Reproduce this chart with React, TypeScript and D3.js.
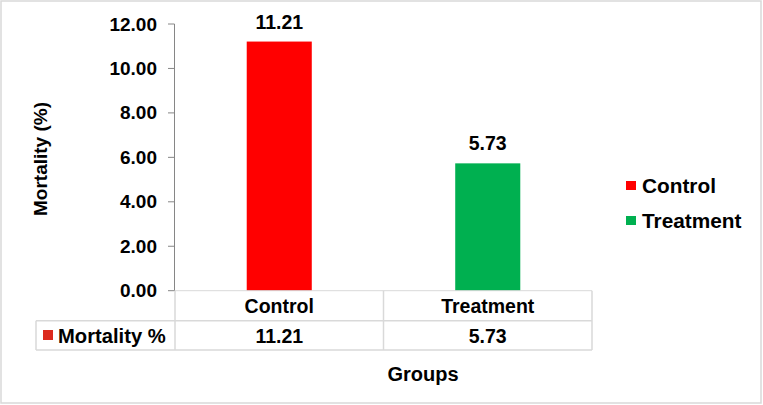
import React from "react";
import * as d3 from "d3";

const categories = ["Control", "Treatment"];
const values = [11.21, 5.73];
const colors = ["#ff0000", "#00b050"];
const yTicks = [0, 2, 4, 6, 8, 10, 12];
const seriesName = "Mortality %";
const yTitle = "Mortality (%)";
const xTitle = "Groups";

const W = 763;
const H = 405;
const FONT = "'Liberation Sans', Arial, sans-serif";

export default function App() {
  const y = d3.scaleLinear().domain([0, 12]).range([290.7, 24]);
  const x = d3.scaleBand<string>().domain(categories).range([175, 592]).padding(0);
  const bw = x.bandwidth() * 0.312;
  const row1Top = y(0);
  const row1Bot = 320.7;
  const row2Bot = 350;
  const tableLeft = 36;
  const gridColor = "#d9d9d9";

  return (
    <svg
      width={W}
      height={H}
      style={{ position: "absolute", left: 0, top: 0, background: "#fff" }}
      fontFamily={FONT}
      fontWeight="bold"
    >
      <rect x={1} y={1} width={760} height={402} fill="#fff" stroke={gridColor} strokeWidth={1.5} />

      {/* y axis */}
      <line x1={174.5} x2={174.5} y1={y(12)} y2={y(0)} stroke="#868686" strokeWidth={1} />
      {yTicks.map((t) => (
        <g key={t}>
          <line x1={168} x2={174.5} y1={y(t)} y2={y(t)} stroke="#868686" strokeWidth={1} />
          <text x={157} y={y(t) + 6.5} textAnchor="end" fontSize={19} fill="#000">
            {t.toFixed(2)}
          </text>
        </g>
      ))}

      {/* bars */}
      {categories.map((c, i) => {
        const cx = (x(c) as number) + x.bandwidth() / 2;
        return (
          <g key={c}>
            <rect x={cx - bw / 2} y={y(values[i])} width={bw} height={y(0) - y(values[i])} fill={colors[i]} />
            <text x={cx} y={y(values[i]) - 13} textAnchor="middle" fontSize={19.5} fill="#000">
              {values[i].toFixed(2)}
            </text>
          </g>
        );
      })}

      {/* data table */}
      <line x1={175} x2={592} y1={row1Top} y2={row1Top} stroke={gridColor} strokeWidth={1} />
      <line x1={tableLeft} x2={592} y1={row1Bot} y2={row1Bot} stroke={gridColor} strokeWidth={1.5} />
      <line x1={tableLeft} x2={592} y1={row2Bot} y2={row2Bot} stroke={gridColor} strokeWidth={1.5} />
      <line x1={tableLeft} x2={tableLeft} y1={row1Bot} y2={row2Bot} stroke={gridColor} strokeWidth={1.5} />
      {[175, ...categories.map((c) => (x(c) as number) + x.bandwidth())].map((vx, i) => (
        <line key={i} x1={vx} x2={vx} y1={row1Top} y2={row2Bot} stroke={gridColor} strokeWidth={1.5} />
      ))}
      {categories.map((c, i) => {
        const cx = (x(c) as number) + x.bandwidth() / 2;
        return (
          <g key={c}>
            <text x={cx} y={313} textAnchor="middle" fontSize={19.5} fill="#000">
              {c}
            </text>
            <text x={cx} y={342.5} textAnchor="middle" fontSize={19.5} fill="#000">
              {values[i].toFixed(2)}
            </text>
          </g>
        );
      })}
      <rect x={43} y={330} width={10} height={10} fill="#dc2a1e" />
      <text x={58} y={342.5} fontSize={20.2} fill="#000">
        {seriesName}
      </text>

      {/* axis titles */}
      <text x={423} y={381} textAnchor="middle" fontSize={20} fill="#000">
        {xTitle}
      </text>
      <text transform={`translate(47,${159}) rotate(-90)`} textAnchor="middle" fontSize={19} fill="#000">
        {yTitle}
      </text>

      {/* legend */}
      {categories.map((c, i) => (
        <g key={c}>
          <rect x={626} y={181 + i * 35} width={10} height={9} fill={colors[i]} />
          <text x={642} y={192.5 + i * 35} fontSize={20.8} fill="#000">
            {c}
          </text>
        </g>
      ))}
    </svg>
  );
}
